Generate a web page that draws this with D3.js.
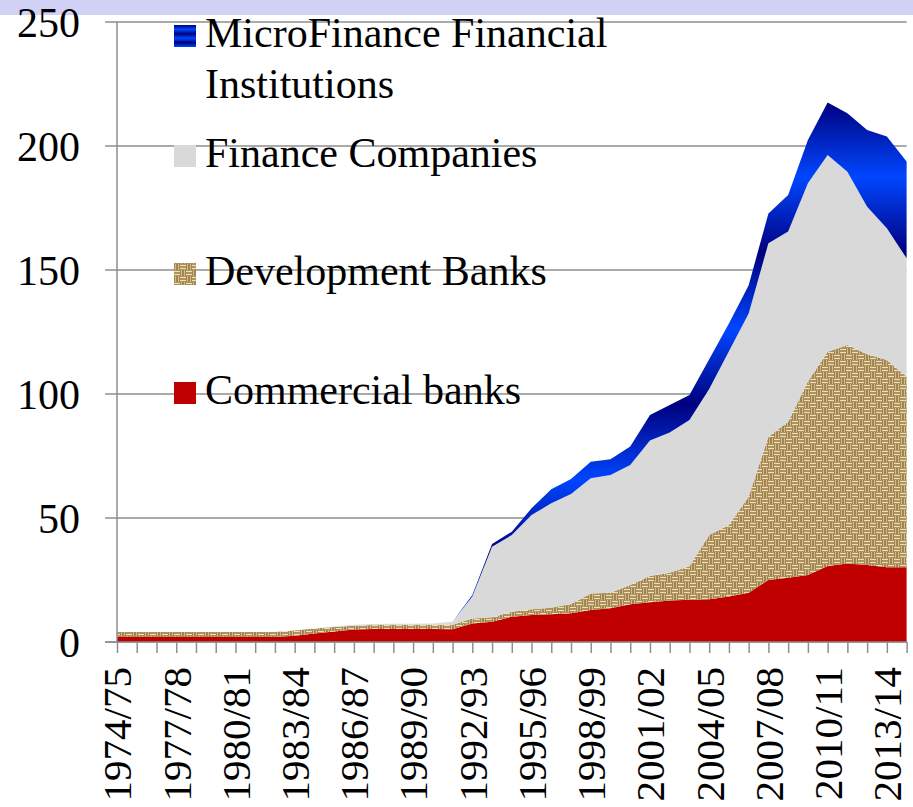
<!DOCTYPE html>
<html>
<head>
<meta charset="utf-8">
<script src="https://cdn.jsdelivr.net/npm/d3@7"></script>
<style>
  body { margin: 0; background: #fff; }
  svg text { font-family: "Liberation Serif", "Times New Roman", serif; }
</style>
</head>
<body>
<svg id="chart" width="913" height="807"></svg>
<script>
var years = [
  '1974/75', '1975/76', '1976/77', '1977/78', '1978/79', '1979/80', '1980/81',
  '1981/82', '1982/83', '1983/84', '1984/85', '1985/86', '1986/87', '1987/88',
  '1988/89', '1989/90', '1990/91', '1991/92', '1992/93', '1993/94', '1994/95',
  '1995/96', '1996/97', '1997/98', '1998/99', '1999/00', '2000/01', '2001/02',
  '2002/03', '2003/04', '2004/05', '2005/06', '2006/07', '2007/08', '2008/09',
  '2009/10', '2010/11', '2011/12', '2012/13', '2013/14', '2014/15'
];

var commercial = [
  2.0, 2.0, 2.0, 2.0, 2.0, 2.0, 2.0, 2.0, 2.0, 2.5, 3.4, 4.2, 5.0, 5.2,
  5.2, 5.2, 5.2, 5.1, 7.5, 8.2, 10.2, 10.9, 11.2, 11.6, 12.9, 13.6, 15.2, 16.0,
  16.7, 17.0, 17.2, 18.3, 19.9, 25.0, 25.9, 27.0, 30.6, 31.7, 31.0, 30.1, 30.1
];

var development = [
  2.0, 2.0, 2.0, 2.0, 2.0, 2.0, 2.0, 2.0, 2.0, 2.1, 2.0, 1.8, 1.6, 1.7,
  1.7, 1.7, 1.7, 1.9, 2.0, 1.8, 2.0, 2.3, 2.6, 3.7, 6.7, 6.3, 7.8, 10.6,
  11.2, 13.5, 25.9, 28.9, 38.7, 57.8, 62.9, 78.0, 86.4, 88.1, 85.0, 83.6, 76.9
];

var finance = [
  0, 0, 0, 0, 0, 0, 0, 0, 0, 0, 0, 0.2, 0.4, 0.4,
  0.5, 0.5, 0.6, 1.2, 8.8, 28.4, 30.9, 38.0, 42.1, 44.4, 46.4, 47.4, 48.4, 54.6,
  56.6, 59.0, 58.9, 70.0, 73.9, 78.0, 76.7, 80.0, 79.4, 69.8, 59.5, 53.1, 47.7
];

var microfinance = [
  0, 0, 0, 0, 0, 0, 0, 0, 0, 0, 0, 0, 0, 0,
  0, 0, 0, 0, 0.7, 1.1, 1.4, 2.7, 5.7, 6.0, 6.7, 6.4, 7.4, 10.3,
  11.1, 10.1, 12.0, 11.2, 11.4, 12.0, 14.7, 17.4, 21.1, 23.6, 31.0, 37.0, 39.0
];

var seriesKeys = ['commercial', 'development', 'finance', 'microfinance'];
var legendLabels = [
  ['MicroFinance Financial', 'Institutions'],
  ['Finance Companies'],
  ['Development Banks'],
  ['Commercial banks']
];
var yTicks = [0, 50, 100, 150, 200, 250];

(function() {
  var width = 913;
  var plotLeft = 117, plotRight = 906.6, plotTop = 22, plotBottom = 642;
  var gridColor = '#8e8e8e';

  var svg = d3.select('#chart');
  var defs = svg.append('defs');

  // burlap-like weave for the development banks
  function writeWeavePattern() {
    var p = defs.append('pattern')
      .attr('id', 'weave')
      .attr('patternUnits', 'userSpaceOnUse')
      .attr('width', 12)
      .attr('height', 12);

    p.append('rect').attr('width', 12).attr('height', 12).attr('fill', '#7d6034');

    var light = '#f1dfae', mid = '#d6ba82';
    [[0, 1.5, 6, 1.5], [0, 4.5, 6, 4.5], [6, 7.5, 12, 7.5], [6, 10.5, 12, 10.5]]
      .forEach(function(l) {
        p.append('line').attr('x1', l[0]).attr('y1', l[1]).attr('x2', l[2]).attr('y2', l[3])
          .attr('stroke', light).attr('stroke-width', 1.8);
      });
    [[7.5, 0, 7.5, 6], [10.5, 0, 10.5, 6], [1.5, 6, 1.5, 12], [4.5, 6, 4.5, 12]]
      .forEach(function(l) {
        p.append('line').attr('x1', l[0]).attr('y1', l[1]).attr('x2', l[2]).attr('y2', l[3])
          .attr('stroke', mid).attr('stroke-width', 1.8);
      });
  }

  function writeBlueGradients() {
    var navy = '#00007e', blue = '#0046ff';
    var g = defs.append('linearGradient')
      .attr('id', 'mfiFill')
      .attr('gradientUnits', 'userSpaceOnUse')
      .attr('x1', 0).attr('y1', 102)
      .attr('x2', 0).attr('y2', 642);

    var bands = [102, 177, 253, 329, 404, 480, 555, 631];
    bands.forEach(function(b, i) {
      g.append('stop')
        .attr('offset', (b - 102) / 540)
        .attr('stop-color', i % 2 ? blue : navy);
    });

    var s = defs.append('linearGradient')
      .attr('id', 'mfiSwatch')
      .attr('x1', 0).attr('y1', 0).attr('x2', 0).attr('y2', 1);
    [0, 0.2, 0.4, 0.6, 0.8, 1].forEach(function(o, i) {
      s.append('stop').attr('offset', o).attr('stop-color', i % 2 ? blue : navy);
    });
  }

  writeWeavePattern();
  writeBlueGradients();

  var fills = {
    commercial: '#c00000',
    development: 'url(#weave)',
    finance: '#d9d9d9',
    microfinance: 'url(#mfiFill)'
  };
  var swatches = ['url(#mfiSwatch)', '#d9d9d9', 'url(#weave)', '#c00000'];

  // lavender strip across the top
  svg.append('rect')
    .attr('x', 0).attr('y', 0)
    .attr('width', width).attr('height', 15)
    .attr('fill', '#d1d1f6');

  var x = d3.scalePoint().domain(years).range([plotLeft, plotRight]);
  var y = d3.scaleLinear().domain([0, 250]).range([plotBottom, plotTop]);

  // gridlines with their outside tick
  svg.append('g')
    .selectAll('line')
    .data(yTicks)
    .join('line')
    .attr('x1', plotLeft - 12)
    .attr('x2', plotRight)
    .attr('y1', function(d) { return y(d); })
    .attr('y2', function(d) { return y(d); })
    .attr('stroke', gridColor)
    .attr('stroke-width', 1.5);

  var rows = years.map(function(yr, i) {
    return {
      year: yr,
      commercial: commercial[i],
      development: development[i],
      finance: finance[i],
      microfinance: microfinance[i]
    };
  });

  var stacked = d3.stack().keys(seriesKeys)(rows);

  var area = d3.area()
    .x(function(d) { return x(d.data.year); })
    .y0(function(d) { return y(d[0]); })
    .y1(function(d) { return y(d[1]); });

  svg.append('g')
    .selectAll('path')
    .data(stacked)
    .join('path')
    .attr('d', area)
    .attr('fill', function(d) { return fills[d.key]; });

  // y axis
  svg.append('line')
    .attr('x1', plotLeft).attr('x2', plotLeft)
    .attr('y1', plotTop).attr('y2', plotBottom)
    .attr('stroke', gridColor).attr('stroke-width', 1.5);

  svg.append('g')
    .selectAll('text')
    .data(yTicks)
    .join('text')
    .attr('x', 80)
    .attr('y', function(d) { return y(d); })
    .attr('dy', '0.35em')
    .attr('text-anchor', 'end')
    .attr('font-size', 42)
    .text(function(d) { return d; });

  // x axis
  var xAxis = svg.append('g')
    .attr('transform', 'translate(0,' + plotBottom + ')')
    .call(d3.axisBottom(x).tickSize(11).tickFormat(''));
  xAxis.select('.domain')
    .attr('d', 'M' + (plotLeft - 12) + ',0H' + plotRight)
    .attr('stroke', gridColor).attr('stroke-width', 1.5);
  xAxis.selectAll('.tick line').attr('stroke', gridColor).attr('stroke-width', 1.5);

  svg.append('g')
    .selectAll('text')
    .data(years.filter(function(d, i) { return i % 3 === 0; }))
    .join('text')
    .attr('transform', function(d) { return 'translate(' + x(d) + ',667) rotate(-90)'; })
    .attr('dy', '0.35em')
    .attr('text-anchor', 'end')
    .attr('font-size', 41)
    .text(function(d) { return d; });

  // legend, drawn on top of the grid
  var legendBase = [47, 167, 285, 404];
  var legend = svg.append('g');

  legendLabels.forEach(function(lines, i) {
    var base = legendBase[i];
    legend.append('rect')
      .attr('x', 174).attr('y', base - 22)
      .attr('width', 22).attr('height', 22)
      .attr('fill', swatches[i]);

    var t = legend.append('text')
      .attr('x', 205).attr('y', base)
      .attr('font-size', 42);
    lines.forEach(function(line, j) {
      t.append('tspan')
        .attr('x', 205)
        .attr('dy', j === 0 ? 0 : 51)
        .text(line);
    });
  });
})();
</script>
</body>
</html>
